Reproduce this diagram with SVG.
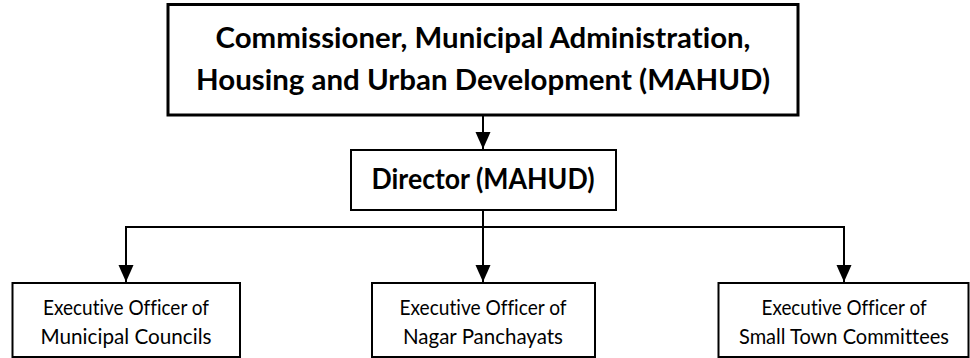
<svg xmlns="http://www.w3.org/2000/svg" width="970" height="358" viewBox="0 0 970 358">
  <style>
    .box { fill: #ffffff; stroke: #000000; stroke-width: 2; }
    .box-top { stroke-width: 3; }
    .link { fill: none; stroke: #000000; stroke-width: 2; }
    text { font-variant-ligatures: none; font-feature-settings: "liga" 0, "clig" 0; }
    .title { font-family: Lato, "Open Sans", "Liberation Sans", sans-serif; font-weight: bold; font-size: 28px; fill: #000000; text-anchor: middle; }
    .label { font-family: Lato, "Open Sans", "Liberation Sans", sans-serif; font-size: 21px; fill: #000000; text-anchor: middle; }
  </style>
  <defs>
    <marker id="head" markerUnits="userSpaceOnUse" markerWidth="18" markerHeight="16" viewBox="0 0 18 16" refX="17" refY="8" orient="auto">
      <path d="M0,0.5 L17,8 L0,15.5 Z" fill="#000000"/>
    </marker>
  </defs>

  <!-- connectors: main trunk, distribution bar and three drops -->
  <g id="connectors">
    <path class="link" d="M483,116 L483,149" marker-end="url(#head)"/>
    <path class="link" d="M483,211 L483,282" marker-end="url(#head)"/>
    <path class="link" d="M126,227 L844,227"/>
    <path class="link" d="M126,226 L126,282" marker-end="url(#head)"/>
    <path class="link" d="M844,226 L844,282" marker-end="url(#head)"/>
  </g>

  <g id="commissioner">
    <rect class="box box-top" x="168" y="4.5" width="630" height="110.5"/>
    <text class="title" x="483" y="48" textLength="535" lengthAdjust="spacingAndGlyphs">Commissioner, Municipal Administration,</text>
    <text class="title" x="483" y="90" textLength="574" lengthAdjust="spacingAndGlyphs">Housing and Urban Development (MAHUD)</text>
  </g>

  <g id="director">
    <rect class="box" x="351" y="150" width="265" height="60"/>
    <text class="title" x="483" y="189" textLength="223" lengthAdjust="spacingAndGlyphs">Director (MAHUD)</text>
  </g>

  <g id="eo-municipal-councils">
    <rect class="box" x="12.5" y="283" width="227.5" height="74"/>
    <text class="label" x="126" y="315" textLength="166" lengthAdjust="spacingAndGlyphs">Executive Officer of</text>
    <text class="label" x="126" y="344" textLength="171" lengthAdjust="spacingAndGlyphs">Municipal Councils</text>
  </g>

  <g id="eo-nagar-panchayats">
    <rect class="box" x="372" y="283" width="223" height="74"/>
    <text class="label" x="483" y="315" textLength="167" lengthAdjust="spacingAndGlyphs">Executive Officer of</text>
    <text class="label" x="483" y="344" textLength="160" lengthAdjust="spacingAndGlyphs">Nagar Panchayats</text>
  </g>

  <g id="eo-small-town-committees">
    <rect class="box" x="718.5" y="283" width="250" height="74"/>
    <text class="label" x="844" y="315" textLength="165" lengthAdjust="spacingAndGlyphs">Executive Officer of</text>
    <text class="label" x="844" y="344" textLength="210" lengthAdjust="spacingAndGlyphs">Small Town Committees</text>
  </g>
</svg>
